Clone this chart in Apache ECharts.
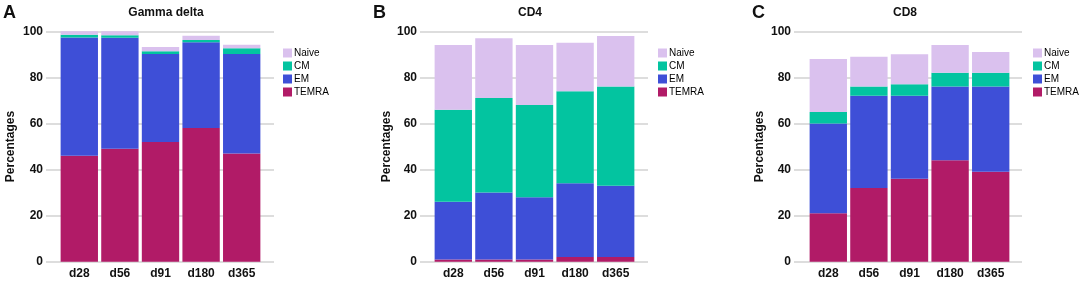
<!DOCTYPE html>
<html>
<head>
<meta charset="utf-8">
<script src="https://cdn.jsdelivr.net/npm/echarts@6/dist/echarts.min.js"></script>
<style>
	html, body { margin: 0; padding: 0; background: #fff; }
	#chart { width: 1084px; height: 285px; }
</style>
</head>
<body>
<div id="chart"></div>
<script>
// categories and legend
const categories = [ 'd28', 'd56', 'd91', 'd180', 'd365' ];
const subsets = [ 'Naive', 'CM', 'EM', 'TEMRA' ];
const yTicks = [ 0, 20, 40, 60, 80, 100 ];

// Gamma delta (percentages)
const gdTemra = [ 46, 49, 52, 58, 47 ];
const gdEm = [ 51.3, 48.2, 38.2, 37.2, 43.2 ];
const gdCm = [ 1.2, 1.1, 1.1, 1.0, 2.4 ];
const gdNaive = [ 1.5, 1.7, 1.9, 1.9, 1.6 ];

// CD4
const cd4Temra = [ 1, 1, 1, 2, 2 ];
const cd4Em = [ 25, 29, 27, 32, 31 ];
const cd4Cm = [ 40, 41, 40, 40, 43 ];
const cd4Naive = [ 28, 26, 26, 21, 22 ];

// CD8
const cd8Temra = [ 21, 32, 36, 44, 39 ];
const cd8Em = [ 39, 40, 36, 32, 37 ];
const cd8Cm = [ 5, 4, 5, 6, 6 ];
const cd8Naive = [ 23, 13, 13, 12, 9 ];

const colors = {
	Naive: '#dac1ee',
	CM: '#03c4a0',
	EM: '#3e4fd7',
	TEMRA: '#b11b67'
};

const font = 'Liberation Sans, Arial, sans-serif';

// layout of each panel, in pixels
const panels = [
	{
		letter: 'A', letterX: 3, title: 'Gamma delta', titleX: 166, nameX: 11,
		bgLeft: 46, barLeft: 59, legendX: 283,
		data: { TEMRA: gdTemra, EM: gdEm, CM: gdCm, Naive: gdNaive }
	},
	{
		letter: 'B', letterX: 373, title: 'CD4', titleX: 530, nameX: 387,
		bgLeft: 420, barLeft: 433, legendX: 658,
		data: { TEMRA: cd4Temra, EM: cd4Em, CM: cd4Cm, Naive: cd4Naive }
	},
	{
		letter: 'C', letterX: 752, title: 'CD8', titleX: 905, nameX: 760,
		bgLeft: 794, barLeft: 808, legendX: 1033,
		data: { TEMRA: cd8Temra, EM: cd8Em, CM: cd8Cm, Naive: cd8Naive }
	}
];

const plotTop = 31.3;
const plotHeight = 230.4;

const option = {
	animation: false,
	backgroundColor: '#fff',
	textStyle: { fontFamily: font },
	title: [],
	legend: [],
	grid: [],
	xAxis: [],
	yAxis: [],
	series: []
};

panels.forEach( ( p, i ) => {
	const bgIdx = i * 2;
	const barIdx = i * 2 + 1;

	option.title.push( {
		text: p.letter,
		left: p.letterX,
		top: 4,
		padding: 0,
		textStyle: { fontSize: 18, fontWeight: 'bold', color: '#111', fontFamily: font }
	} );
	option.title.push( {
		text: p.title,
		left: p.titleX,
		textAlign: 'center',
		top: 7,
		padding: 0,
		textStyle: { fontSize: 12, fontWeight: 'bold', color: '#111', fontFamily: font }
	} );

	option.legend.push( {
		data: subsets,
		orient: 'vertical',
		left: p.legendX,
		top: 48,
		padding: 0,
		itemWidth: 9,
		itemHeight: 9,
		itemGap: 3,
		icon: 'rect',
		selectedMode: false,
		textStyle: { fontSize: 10, color: '#000', padding: [ 0, 0, 0, -3 ], fontFamily: font }
	} );

	// background grid carries the labels and gridlines
	option.grid.push( { left: p.bgLeft, top: plotTop, width: 228, height: plotHeight } );
	option.grid.push( { left: p.barLeft, top: plotTop, width: 203, height: plotHeight } );

	option.xAxis.push( { gridIndex: bgIdx, type: 'value', min: 0, max: 1, show: false } );
	option.xAxis.push( {
		gridIndex: barIdx,
		type: 'category',
		data: categories,
		axisLine: { show: false },
		axisTick: { show: false },
		axisLabel: { margin: 6, fontSize: 12, fontWeight: 'bold', color: '#111', fontFamily: font }
	} );

	option.yAxis.push( {
		gridIndex: bgIdx,
		type: 'value',
		min: yTicks[ 0 ],
		max: yTicks[ yTicks.length - 1 ],
		interval: 20,
		name: 'Percentages',
		nameLocation: 'middle',
		nameRotate: 90,
		nameGap: p.bgLeft - p.nameX - 6,
		nameTextStyle: { fontSize: 12, fontWeight: 'bold', color: '#111', fontFamily: font },
		axisLine: { show: false },
		axisTick: { show: false },
		axisLabel: { margin: 3, fontSize: 12, fontWeight: 'bold', color: '#111', fontFamily: font },
		splitLine: { lineStyle: { color: '#d2d2d2', width: 1.5 } }
	} );
	option.yAxis.push( { gridIndex: barIdx, type: 'value', min: 0, max: 100, show: false } );

	// stack from the bottom up
	[ 'TEMRA', 'EM', 'CM', 'Naive' ].forEach( ( name ) => {
		option.series.push( {
			name: name,
			type: 'bar',
			stack: 'panel' + i,
			xAxisIndex: barIdx,
			yAxisIndex: barIdx,
			barCategoryGap: '8%',
			data: p.data[ name ],
			itemStyle: { color: colors[ name ] },
			z: 3
		} );
	} );
} );

const chart = echarts.init( document.getElementById( 'chart' ), null, { renderer: 'canvas' } );
chart.setOption( option );
</script>
</body>
</html>
